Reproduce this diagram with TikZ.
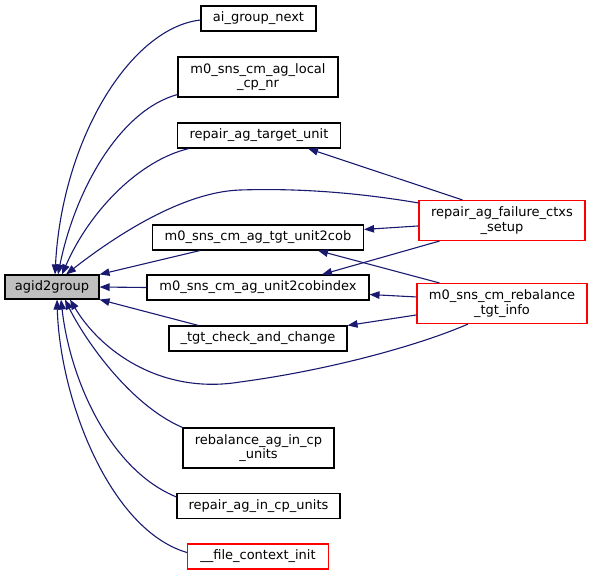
\documentclass[tikz,border=0pt]{standalone}
\usepackage{fontspec}
\setmainfont{DejaVu Sans}
\usetikzlibrary{arrows.meta}
\definecolor{edgeblue}{HTML}{191970}
\definecolor{nodered}{HTML}{FF0000}
\begin{document}
\begin{tikzpicture}[x=1pt,y=-1pt,
  fn/.style={draw=black,fill=white,line width=1.1pt,inner sep=0pt,align=center,
    font=\fontsize{13}{14.5}\selectfont},
  rednode/.style={fn,draw=nodered},
  edge/.style={draw=edgeblue,line width=1.1pt,-{Triangle[length=10pt,width=7.5pt]}}]
\useasboundingbox (0,0) rectangle (593,576);

\node[fn,fill=gray!50,minimum width=94pt,minimum height=24pt] (agid) at (52,287) {agid2group};
\node[fn,minimum width=115pt,minimum height=25pt] (aign) at (258.5,18.5) {ai\_group\_next};
\node[fn,minimum width=160pt,minimum height=40pt] (local) at (258,77) {m0\_sns\_cm\_ag\_local\\\_cp\_nr};
\node[fn,minimum width=163pt,minimum height=25pt] (rtu) at (259,135.5) {repair\_ag\_target\_unit};
\node[fn,minimum width=211pt,minimum height=25pt] (tgt) at (258,237.5) {m0\_sns\_cm\_ag\_tgt\_unit2cob};
\node[fn,minimum width=222pt,minimum height=25pt] (u2c) at (258,287.5) {m0\_sns\_cm\_ag\_unit2cobindex};
\node[fn,minimum width=178pt,minimum height=25pt] (tcc) at (258,338.5) {\_tgt\_check\_and\_change};
\node[fn,minimum width=151pt,minimum height=40pt] (rebin) at (258.5,448) {rebalance\_ag\_in\_cp\\\_units};
\node[fn,minimum width=163pt,minimum height=25pt] (rincp) at (258.5,506) {repair\_ag\_in\_cp\_units};
\node[rednode,minimum width=141pt,minimum height=25pt] (fci) at (258,556.5) {\_\_file\_context\_init};
\node[rednode,minimum width=166pt,minimum height=40pt] (rafcs) at (502,220.5) {repair\_ag\_failure\_ctxs\\\_setup};
\node[rednode,minimum width=170pt,minimum height=40pt] (rti) at (502,303.5) {m0\_sns\_cm\_rebalance\\\_tgt\_info};

% edges into agid2group, top
\draw[edge] ([yshift=-1.5pt]aign.west) .. controls (130,28) and (62,140) .. ([xshift=3pt]agid.north);
\draw[edge] ([yshift=3pt]local.south west) .. controls (120,110) and (75,190) .. ([xshift=6pt]agid.north);
\draw[edge] ([xshift=12pt]rtu.south west) .. controls (140,160) and (90,210) .. ([xshift=10pt]agid.north);
\draw[edge] ([yshift=-3pt]rafcs.north west) .. controls (360,193) and (300,188) .. (240,190)
  .. controls (180,192) and (110,240) .. ([xshift=14pt]agid.north);
\draw[edge] ([xshift=48pt]tgt.south west) -- (agid.north east);
\draw[edge] (u2c.west) -- (agid.east);
\draw[edge] ([xshift=30pt]tcc.north west) -- (agid.south east);
% edges into agid2group, bottom
\draw[edge] ([xshift=-34pt]rti.south) .. controls (420,345) and (330,370) .. (240,382)
  .. controls (160,395) and (100,350) .. ([xshift=18pt]agid.south);
\draw[edge] (rebin.north west) .. controls (130,405) and (85,340) .. ([xshift=13pt]agid.south);
\draw[edge] ([yshift=-4pt]rincp.north west) .. controls (110,470) and (70,380) .. ([xshift=9pt]agid.south);
\draw[edge] ([yshift=4pt]fci.west) .. controls (110,530) and (60,400) .. ([xshift=5pt]agid.south);
% edges from the right-hand callers
\draw[edge] ([xshift=44pt]rafcs.north west) -- ([xshift=-33pt]rtu.south east);
\draw[edge] ([yshift=-26pt]rafcs.north west) -- ([yshift=-5pt]tgt.north east);
\draw[edge] ([xshift=21pt]rafcs.south west) -- ([xshift=64pt]u2c.north);
\draw[edge] ([xshift=23pt]rti.north west) -- ([xshift=60pt]tgt.south);
\draw[edge] ([yshift=-14pt]rti.north west) -- ([yshift=-7pt]u2c.east);
\draw[edge] ([yshift=-32pt]rti.north west) -- (tcc.north east);
\end{tikzpicture}
\end{document}
